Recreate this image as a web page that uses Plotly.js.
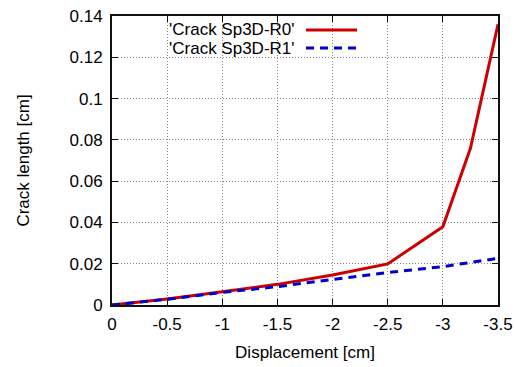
<!DOCTYPE html>
<html><head><meta charset="utf-8">
<script src="https://cdn.plot.ly/plotly-3.0.1.min.js"></script>
<style>html,body{margin:0;padding:0;background:#fff}#c{width:515px;height:367px}</style>
</head><body><div id="c"></div>
<script>
const displacement = [0, -0.5, -1, -1.5, -2, -2.5, -3, -3.25, -3.5];
const crackR0 = [0, 0.0029, 0.0064, 0.0100, 0.0145, 0.0199, 0.0379, 0.0759, 0.136];
const displacementR1 = [0, -0.5, -1, -1.5, -2, -2.5, -3, -3.5];
const crackR1 = [0, 0.0028, 0.0061, 0.0089, 0.0124, 0.0157, 0.0186, 0.0226];
const seriesNames = ["'Crack Sp3D-R0'", "'Crack Sp3D-R1'"];
const xTickVals = [0, -0.5, -1, -1.5, -2, -2.5, -3, -3.5];
const xTickText = ["0", "-0.5", "-1", "-1.5", "-2", "-2.5", "-3", "-3.5"];
const yTickVals = [0, 0.02, 0.04, 0.06, 0.08, 0.1, 0.12, 0.14];
const yTickText = ["0", "0.02", "0.04", "0.06", "0.08", "0.1", "0.12", "0.14"];

const red = '#cc0000', blue = '#0000cc';
const font = {family: 'Liberation Sans, Arial, sans-serif', size: 17, color: '#000'};
const legFont = {family: 'Liberation Sans, Arial, sans-serif', size: 17, color: '#000'};

const traces = [
  {x: displacement, y: crackR0, mode: 'lines', name: seriesNames[0],
   line: {color: red, width: 3}},
  {x: displacementR1, y: crackR1, mode: 'lines', name: seriesNames[1],
   line: {color: blue, width: 3, dash: '8px,6px'}}
];

const axisCommon = {
  showline: true, linecolor: '#111', linewidth: 2, mirror: 'allticks',
  ticks: 'inside', ticklen: 6, tickcolor: '#111', tickwidth: 1,
  showgrid: true, gridcolor: '#888', griddash: '1px,2px', gridwidth: 1,
  zeroline: false, tickfont: font
};

const layout = {
  width: 515, height: 367,
  margin: {l: 112, r: 17, t: 16, b: 62},
  paper_bgcolor: '#fff', plot_bgcolor: '#fff',
  showlegend: false,
  font: font,
  xaxis: Object.assign({}, axisCommon, {
    range: [0, -3.5], tickmode: 'array', tickvals: xTickVals, ticktext: xTickText,
    ticklabelstandoff: 3,
    title: {text: 'Displacement [cm]', font: font, standoff: 13}
  }),
  yaxis: Object.assign({}, axisCommon, {
    range: [0, 0.14], tickmode: 'array', tickvals: yTickVals, ticktext: yTickText,
    ticklabelstandoff: 4,
    title: {text: 'Crack length [cm]', font: font, standoff: 36}
  }),
  annotations: [
    {xref: 'paper', yref: 'paper', x: (296-112)/386, y: (305-29)/289, text: seriesNames[0],
     showarrow: false, xanchor: 'right', yanchor: 'middle', font: legFont, borderpad: 0},
    {xref: 'paper', yref: 'paper', x: (296-112)/386, y: (305-48)/289, text: seriesNames[1],
     showarrow: false, xanchor: 'right', yanchor: 'middle', font: legFont, borderpad: 0}
  ],
  shapes: [
    {type: 'line', xref: 'paper', yref: 'paper', x0: (306-112)/386, x1: (357-112)/386,
     y0: (305-30)/289, y1: (305-30)/289, line: {color: red, width: 3}},
    {type: 'line', xref: 'paper', yref: 'paper', x0: (306-112)/386, x1: (357-112)/386,
     y0: (305-48)/289, y1: (305-48)/289, line: {color: blue, width: 3, dash: '8px,6px'}}
  ]
};

Plotly.newPlot('c', traces, layout, {displayModeBar: false, staticPlot: true});
</script></body></html>
